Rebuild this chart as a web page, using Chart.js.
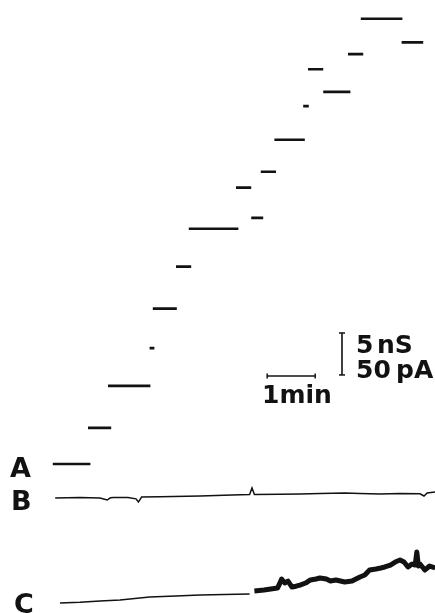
<!DOCTYPE html>
<html>
<head>
<meta charset="utf-8">
<script src="https://cdn.jsdelivr.net/npm/chart.js@4.4.1/dist/chart.umd.min.js"></script>
<style>
  html, body { margin: 0; padding: 0; background: #fff; }
  #wrap { width: 435px; height: 613px; position: relative; }
</style>
</head>
<body>
<div id="wrap"><canvas id="chartTraces"></canvas></div>
<script>
// trace A: conductance steps (time in s, level in nS)
const stepStart = [66, 110, 135, 187, 191, 220, 236, 295, 314, 326, 343, 379, 385, 404, 435, 451, 502];
const stepEnd   = [113, 139, 188, 193, 221, 239, 298, 314, 329, 345, 381, 386, 404, 438, 454, 503, 529];
const stepLevel = [0, 4.3, 9.3, 13.8, 18.5, 23.5, 28.0, 32.9, 29.3, 34.8, 38.6, 42.6, 47.0, 44.3, 48.8, 53.0, 50.2];

// trace B: current (pA), time in s
const bTime    = [69, 100, 125, 134, 138, 142, 160, 170, 173, 177, 200, 250, 290, 312, 315, 318, 350, 375, 400, 431, 450, 475, 500, 525, 530, 534, 544];
const bCurrent = [0, 0.5, 0, -2.4, 0.2, 0.6, 0.5, -1, -4.8, 1.2, 1.5, 2.4, 3.6, 4.2, 11.9, 4.2, 4.6, 4.8, 5.4, 6.0, 5.4, 4.8, 5.4, 5.0, 2.4, 6.0, 7.1];

// trace C: current (pA) before and after the break
const cTime    = [75, 100, 125, 150, 187, 220, 250, 280, 312];
const cCurrent = [0, 0.8, 2.4, 3.6, 7.1, 8.3, 9.5, 10.1, 10.7];
const cLateTime    = [318, 330, 347, 350, 352, 356, 360, 365, 370, 375, 382, 388, 395, 400, 408, 413, 420, 431, 440, 450, 456, 462, 470, 476, 481, 488, 494, 500, 505, 510, 515, 519, 521, 523, 525, 531, 537, 544];
const cLateCurrent = [14.3, 15.5, 17.9, 24, 28.6, 23.8, 26, 19, 20, 21.4, 23.8, 27.4, 28.6, 29.8, 28.6, 26.2, 27.4, 25, 26.2, 31, 33.3, 39.3, 40.5, 41.7, 42.9, 45.2, 48.8, 51.2, 48.8, 42.9, 46.4, 45.2, 60.7, 44, 46.4, 39.3, 44, 41.7];

// display offsets (nS units), 5 nS == 50 pA
const PA_PER_NS = 10;
const bOffset = -4.05;
const cOffset = -16.55;

// calibration bars
const barNs = 5;
const barSec = 60;

const ink = '#121212';

const stepData = [];
stepStart.forEach((s, i) => {
  stepData.push({x: s, y: stepLevel[i]}, {x: stepEnd[i], y: stepLevel[i]}, {x: stepEnd[i], y: null});
});
const toTrace = (t, v, off) => t.map((x, i) => ({x: x, y: off + v[i] / PA_PER_NS}));

const barX = 427.5, barTop = 15.6;
const hBarX = 334, hBarY = 10.48;

const labels = {
  id: 'labels',
  afterDraw(chart) {
    const ctx = chart.ctx;
    ctx.save();
    ctx.fillStyle = ink;
    ctx.textBaseline = 'alphabetic';
    ctx.font = 'bold 27px "DejaVu Sans"';
    ctx.fillText('A', 10, 477);
    ctx.fillText('B', 11, 510);
    ctx.fillText('C', 14, 613);
    ctx.font = 'bold 25px "DejaVu Sans"';
    ctx.fillText('5', 356, 353);
    ctx.fillText('nS', 377, 353);
    ctx.fillText('50', 356, 378);
    ctx.fillText('pA', 396, 378);
    ctx.fillText('1min', 262, 403);
    ctx.restore();
  }
};

new Chart(document.getElementById('chartTraces'), {
  type: 'line',
  data: {
    datasets: [
      { data: stepData, borderColor: ink, borderWidth: 2.6, spanGaps: false },
      { data: toTrace(bTime, bCurrent, bOffset), borderColor: ink, borderWidth: 1.5 },
      { data: toTrace(cTime, cCurrent, cOffset), borderColor: ink, borderWidth: 1.5 },
      { data: toTrace(cLateTime, cLateCurrent, cOffset), borderColor: ink, borderWidth: 5, borderJoinStyle: 'round' },
      { data: [{x: barX, y: barTop}, {x: barX, y: barTop - barNs}], borderColor: ink, borderWidth: 1.6,
        pointStyle: 'line', pointRadius: 3, pointBorderColor: ink, pointBorderWidth: 1.5, pointRotation: 0 },
      { data: [{x: hBarX, y: hBarY}, {x: hBarX + barSec, y: hBarY}], borderColor: ink, borderWidth: 1.6,
        pointStyle: 'line', pointRadius: 2.5, pointBorderColor: ink, pointBorderWidth: 1.5, pointRotation: 90 }
    ]
  },
  options: {
    responsive: true,
    maintainAspectRatio: false,
    animation: false,
    layout: { padding: 0, autoPadding: false },
    elements: { point: { radius: 0, hoverRadius: 0 }, line: { tension: 0, borderCapStyle: 'butt' } },
    plugins: { legend: { display: false }, tooltip: { enabled: false } },
    scales: {
      x: { type: 'linear', display: false, min: 0, max: 543.75 },
      y: { type: 'linear', display: false, min: -17.74, max: 55.24 }
    }
  },
  plugins: [labels]
});
</script>
</body>
</html>
